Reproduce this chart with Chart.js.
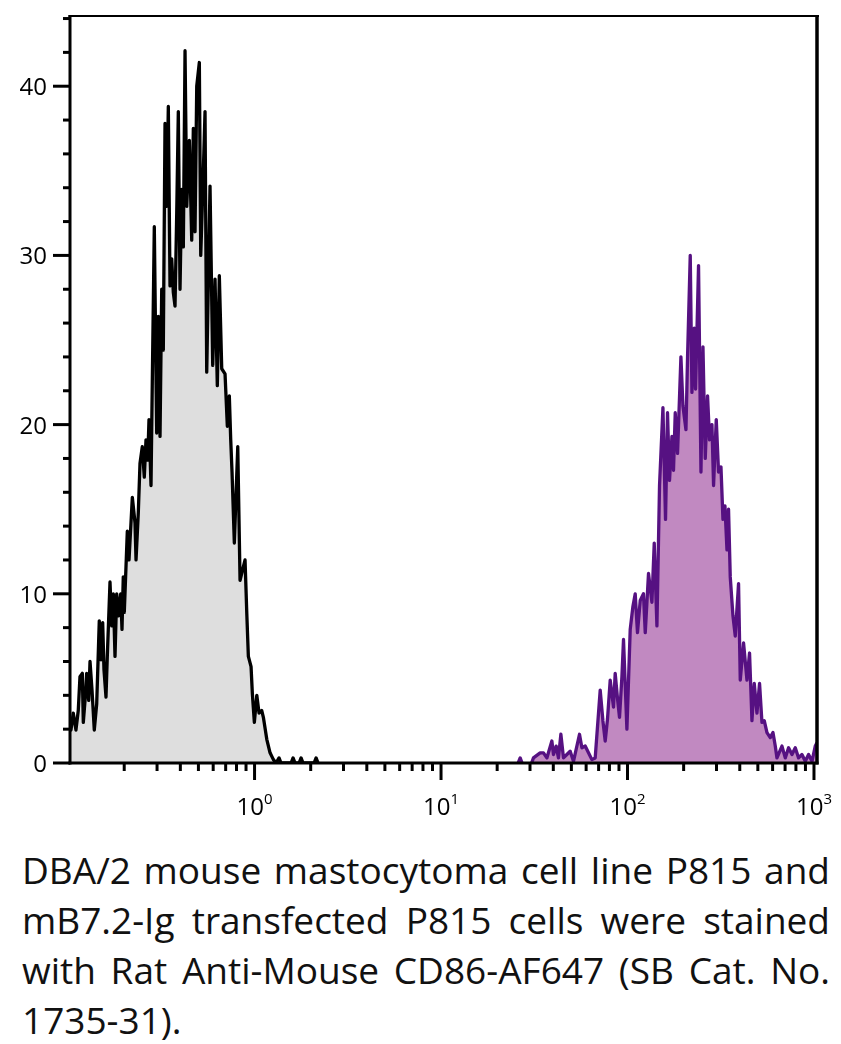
<!DOCTYPE html>
<html>
<head>
<meta charset="utf-8">
<script src="https://cdn.jsdelivr.net/npm/chart.js@4.4.1/dist/chart.umd.min.js"></script>
<style>
  body { margin: 0; background: #fff; }
  #wrap { position: relative; width: 841px; height: 1044px; }
  #hist { position: absolute; left: 0; top: 0; }
  #caption { position: absolute; left: 22px; top: 845px; width: 808px;
    font-family: "Open Sans", sans-serif; font-size: 37px; line-height: 50px; color: #111; }
  #caption div { text-align: justify; text-align-last: justify; }
  #caption div.last { text-align-last: left; }
</style>
</head>
<body>
<div id="wrap">
  <canvas id="hist" width="841" height="830"></canvas>
  <div id="caption">
    <div>DBA/2 mouse mastocytoma cell line P815 and</div>
    <div>mB7.2-Ig transfected P815 cells were stained</div>
    <div>with Rat Anti-Mouse CD86-AF647 (SB Cat. No.</div>
    <div class="last">1735-31).</div>
  </div>
</div>
<script>
// unstained P815 (grey) - fluorescence value / count
var grayX = [
  0.1024, 0.1036, 0.1066, 0.1102, 0.1134, 0.1158, 0.1192, 0.1207, 0.1237, 0.1258,
  0.1290, 0.1311, 0.1344, 0.1382, 0.1424, 0.1470, 0.1501, 0.1533, 0.1558, 0.1597,
  0.1623, 0.1678, 0.1714, 0.1748, 0.1785, 0.1823, 0.1868, 0.1915, 0.1946, 0.1977,
  0.2002, 0.2078, 0.2122, 0.2211, 0.2285, 0.2314, 0.2380, 0.2430, 0.2500, 0.2563,
  0.2617, 0.2673, 0.2716, 0.2784, 0.2829, 0.2900, 0.2987, 0.3047, 0.3112, 0.3178,
  0.3241, 0.3310, 0.3381, 0.3448, 0.3521, 0.3596, 0.3668, 0.3745, 0.3825, 0.3901,
  0.3984, 0.4068, 0.4150, 0.4238, 0.4328, 0.4469, 0.4603, 0.4695, 0.4795, 0.4897,
  0.5057, 0.5145, 0.5273, 0.5425, 0.5540, 0.5770, 0.5966, 0.6138, 0.6314, 0.6473,
  0.6668, 0.6946, 0.7145, 0.7323, 0.7451, 0.7572, 0.7790, 0.8127, 0.8360, 0.8893,
  0.9082, 0.9263, 0.9577, 0.9732, 0.9975, 1.028, 1.057, 1.093, 1.115, 1.163,
  1.211, 1.262, 1.304, 1.353, 1.387, 1.570, 1.609, 1.649, 1.733, 1.776,
  1.820, 2.085, 2.138, 2.191
];
var grayY = [
  2.0, 1.95, 2.95, 1.95, 3.1, 5.1, 5.3, 2.4, 3.9, 5.3,
  3.7, 6.0, 4.3, 1.95, 3.5, 8.4, 6.1, 8.3, 5.5, 3.9,
  6.3, 10.7, 8.1, 10.0, 6.3, 10.0, 8.7, 10.0, 7.9, 11.0,
  8.9, 13.7, 12.0, 15.7, 14.2, 12.0, 14.8, 17.7, 18.7, 16.9,
  19.1, 17.9, 20.3, 16.4, 22.5, 31.7, 19.5, 26.4, 19.3, 28.0,
  24.4, 37.8, 32.9, 38.8, 28.2, 29.8, 27.8, 27.0, 32.5, 38.5,
  28.0, 33.9, 30.5, 42.1, 32.9, 36.8, 30.9, 37.5, 31.4, 40.0,
  41.4, 30.0, 33.7, 38.5, 23.1, 34.1, 23.5, 28.6, 22.3, 28.8,
  23.3, 23.0, 19.9, 21.7, 19.1, 17.2, 13.0, 18.7, 10.8, 12.0,
  8.9, 6.3, 5.7, 4.1, 2.4, 4.0, 2.95, 3.1, 2.7, 1.4,
  0.6, 0.2, 0, 0.3, 0, 0, 0.3, 0, 0, 0.3,
  0, 0, 0.3, 0
];

// mB7.2-Ig transfected P815 (purple); null = gap
var purpleX = [
  0.455, 0.462, 0.469, 0.47, 0.805, 0.816, 0.827, 0.83,
  25.9, 26.57, 27.2, 27.5, 30.6, 31.31,
  34.01, 35.43, 36.95, 39.30, 40.09, 41.45, 42.64, 43.92, 45.36, 47.30,
  49.27, 51.32, 55.28, 56.94, 59.31, 61.78, 64.42, 67.10, 69.90, 71.38,
  73.79, 75.93, 78.11, 80.76, 84.12, 85.90, 88.39, 90.60, 93.33, 95.18,
  99.26, 103.4, 106.9, 110.0, 113.1, 117.0, 121.8, 124.5, 129.6, 135.2,
  139.1, 143.8, 148.5, 154.9, 159.9, 163.9, 168.0, 173.1, 176.5, 180.3,
  185.5, 193.4, 198.3, 205.8, 209.9, 217.0, 221.6, 228.0, 231.7, 240.4,
  247.7, 253.9, 261.2, 268.7, 275.4, 283.7, 289.4, 299.2, 307.8, 317.1,
  325.0, 333.1, 341.5, 348.2, 355.6, 367.7, 378.3, 394.0, 402.4, 419.1,
  437.1, 451.3, 464.9, 478.3, 494.5, 510.7, 526.0, 541.2, 559.6, 582.9,
  602.6, 620.0, 633.1, 673.5, 701.5, 730.7, 762.1, 793.8, 826.8, 862.2,
  898.1, 935.4, 975.7, 1016, 1038
];
var purpleY = [
  0, 0.25, 0, null, 0, 0.25, 0, null,
  0, 0.3, 0, null, 0, 0.3,
  0.6, 0.6, 0.3, 1.3, 0.5, 1.0, 0.3, 1.7, 0.3, 0.5,
  0.7, 0.1, 1.7, 0.9, 1.0, 0.6, 0.2, 0.3, 2.95, 4.3,
  2.5, 1.3, 2.6, 4.9, 3.3, 5.3, 3.8, 2.7, 5.1, 7.3,
  2.0, 7.9, 9.25, 10.0, 7.7, 9.6, 10.0, 7.7, 11.2, 9.5,
  13.0, 8.1, 16.4, 21.0, 14.4, 20.7, 16.7, 19.3, 17.3, 20.7,
  18.3, 24.0, 21.1, 19.7, 24.0, 30.0, 21.9, 25.7, 22.1, 29.4,
  17.2, 24.6, 18.0, 21.7, 19.1, 20.0, 16.4, 20.3, 17.2, 17.5,
  14.4, 15.2, 12.6, 15.0, 11.0, 8.7, 7.5, 10.6, 4.9, 7.1,
  4.9, 6.5, 2.5, 4.7, 2.95, 4.7, 2.4, 2.5, 1.8, 1.5,
  1.8, 1.0, 0.3, 1.0, 0.3, 0.9, 0.5, 0.9, 0.3, 0.5,
  0.1, 0.5, 0.1, 1.0, 1.2
];

var yLabels = [0, 10, 20, 30, 40];
var yMinorStep = 2;
var xDecades = [0, 1, 2, 3];   // labels 10^0 .. 10^3

function toPoints(xs, ys) {
  var pts = [];
  for (var i = 0; i < xs.length; i++) pts.push({x: xs[i], y: ys[i]});
  return pts;
}

var axisFont = '"Open Sans", sans-serif';

// axes, ticks and labels drawn with the chart's own scales
var frame = {
  id: 'frame',
  afterDraw: function(chart) {
    var c = chart.ctx, a = chart.chartArea, xs = chart.scales.x, ys = chart.scales.y;
    c.save();
    c.strokeStyle = '#000';
    c.lineCap = 'butt';

    function seg(x1, y1, x2, y2, w) {
      c.lineWidth = w;
      c.beginPath(); c.moveTo(x1, y1); c.lineTo(x2, y2); c.stroke();
    }
    // box
    seg(a.left - 1.5, a.top, a.right + 2, a.top, 2);
    seg(a.right, a.top - 1, a.right, a.bottom + 1.5, 3.5);
    seg(a.left, a.top - 1, a.left, a.bottom + 1.5, 3);
    seg(a.left - 1.5, a.bottom, a.right + 1.5, a.bottom, 3);

    // y ticks
    for (var v = 0; v <= ys.max; v += yMinorStep) {
      var py = ys.getPixelForValue(v);
      var len = (v % 10 === 0) ? 17 : 7;
      seg(a.left - len, py, a.left, py, 3);
    }
    c.fillStyle = '#000';
    c.font = '24px ' + axisFont;
    c.textAlign = 'right';
    c.textBaseline = 'alphabetic';
    yLabels.forEach(function(v) {
      c.fillText(String(v), 47, ys.getPixelForValue(v) + 9);
    });

    // x ticks (log minor ticks)
    for (var d = -1; d <= 3; d++) {
      for (var m = 1; m <= 9; m++) {
        var val = m * Math.pow(10, d);
        if (val < xs.min || val > xs.max) continue;
        var px = xs.getPixelForValue(val);
        seg(px, a.bottom, px, a.bottom + (m === 1 ? 17 : 8), 3);
      }
    }
    // x labels 10^n
    c.textAlign = 'left';
    xDecades.forEach(function(e) {
      var px = xs.getPixelForValue(Math.pow(10, e));
      c.font = '24px ' + axisFont;
      var w1 = c.measureText('10').width;
      c.font = '15px ' + axisFont;
      var w2 = c.measureText(String(e)).width;
      var x0 = px - (w1 + w2) / 2;
      c.font = '24px ' + axisFont;
      c.fillText('10', x0, 815);
      c.font = '15px ' + axisFont;
      c.fillText(String(e), x0 + w1, 804);
    });
    c.restore();
  }
};

var ctx = document.getElementById('hist').getContext('2d');
var chart = new Chart(ctx, {
  type: 'line',
  data: {
    datasets: [{
      label: 'P815',
      data: toPoints(grayX, grayY),
      borderColor: '#000000',
      backgroundColor: '#dedede',
      fill: 'origin',
      borderWidth: 3.3,
      borderJoinStyle: 'round',
      pointRadius: 0,
      tension: 0
    }, {
      label: 'mB7.2-Ig P815',
      data: toPoints(purpleX, purpleY),
      borderColor: '#561182',
      backgroundColor: '#c189c1',
      fill: 'origin',
      borderWidth: 3.3,
      borderJoinStyle: 'round',
      pointRadius: 0,
      tension: 0,
      spanGaps: false
    }]
  },
  options: {
    responsive: false,
    animation: false,
    devicePixelRatio: 1,
    layout: { padding: { left: 70, top: 16, right: 24, bottom: 67 } },
    plugins: { legend: { display: false }, tooltip: { enabled: false } },
    scales: {
      x: { type: 'logarithmic', min: 0.1024, max: 1038, display: false },
      y: { type: 'linear', min: 0, max: 44.15, display: false }
    }
  },
  plugins: [frame]
});
</script>
</body>
</html>
